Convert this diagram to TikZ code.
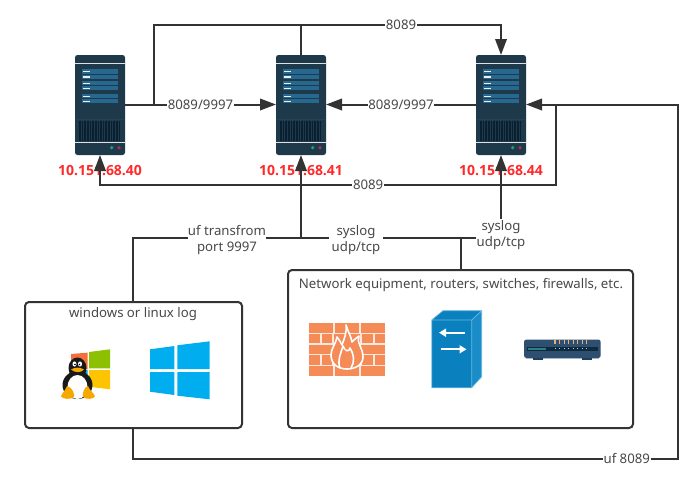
\documentclass[tikz,border=0pt]{standalone}
\usepackage{fontspec}
\setmainfont{Noto Sans}
\newfontfamily\ipfont{Open Sans}
\usetikzlibrary{arrows.meta,calc}
\definecolor{ln}{HTML}{333333}
\definecolor{txt}{HTML}{484848}
\definecolor{srv}{HTML}{1E3A4A}
\definecolor{pane}{HTML}{26688F}
\definecolor{vent}{HTML}{0A2030}
\definecolor{brick}{HTML}{F58B57}
\definecolor{wb}{HTML}{00ADEF}
\definecolor{msr}{HTML}{F2703C}
\definecolor{msg}{HTML}{8DC000}
\definecolor{msb}{HTML}{00A4EF}
\definecolor{msy}{HTML}{FFC400}
\definecolor{tuxo}{HTML}{F5A800}
\definecolor{swf}{HTML}{0A80BF}
\definecolor{sws}{HTML}{1A8CC8}
\definecolor{swe}{HTML}{6DB8E0}
\definecolor{rtf}{HTML}{1F3D5C}
\definecolor{rtb}{HTML}{2F4F70}
\definecolor{rtl}{HTML}{A9B8C8}
\definecolor{rtd}{HTML}{0C2A3C}
\definecolor{rtt}{HTML}{2F7F86}
\definecolor{rto}{HTML}{E8B070}
\definecolor{rtw}{HTML}{B8D0D8}
\definecolor{dotg}{HTML}{2A9A6F}
\definecolor{dotr}{HTML}{A8304F}
\definecolor{ipred}{HTML}{FF2A2A}
\tikzset{
  x=1pt,y=-1pt,
  conn/.style={draw=ln,line width=2pt},
  tip/.style={-{Triangle[length=16pt,width=11.5pt]}},
  lab/.style={fill=white,inner sep=0.6pt,text=txt,font=\fontsize{13.2}{16}\selectfont,align=center},
  ip/.style={text=ipred,font=\ipfont\fontsize{14}{15}\selectfont\bfseries,inner sep=0pt},
  serverbox/.style={minimum width=50pt,minimum height=100pt,inner sep=0pt,outer sep=0pt,draw=none,fill=srv,rounded corners=2.5pt},
  groupbox/.style={draw=ln,line width=2pt,rounded corners=4pt,fill=white,inner sep=0pt,outer sep=0pt},
  head/.style={text=txt,font=\fontsize{13.2}{15}\selectfont,inner sep=0pt},
}
\newcommand{\serverart}[2]{%
\begin{scope}[shift={(#1,#2)}]
  \fill[white!85!srv] (0,8) rectangle (50,8.7);
  \foreach \a/\b in {14.3/19,19.7/24.3,26/30,31/35,39/43,44/48}{
    \fill[pane] (7.3,\a) rectangle (43,\b);
    \fill[white!90!pane] (8,{\a+1.6}) rectangle (14.5,{\a+2.8});
  }
  \fill[srv!80!pane] (0,64) rectangle (50,64.8);
  \fill[vent] (4,66) rectangle (46,86);
  \foreach \i in {0,...,15}{\fill[srv] ({5.6+\i*2.65},66) rectangle ({6.2+\i*2.65},86);}
  \fill[white!85!srv] (0,87) rectangle (50,87.7);
  \fill[dotg] (36.7,92.7) circle (1.8);
  \fill[dotr] (44,92.7) circle (1.8);
\end{scope}}
\begin{document}
\begin{tikzpicture}
\useasboundingbox (0,0) rectangle (687,483);
\fill[white] (0,0) rectangle (687,483);

% servers
\node[serverbox] (s1) at (100,105) {};
\node[serverbox] (s2) at (301,105) {};
\node[serverbox] (s3) at (501,105) {};
\serverart{75}{55}\serverart{276}{55}\serverart{476}{55}
\node[ip] (ip1) at (100,171) {10.151.68.40};
\node[ip] (ip2) at (301,171) {10.151.68.41};
\node[ip] (ip3) at (501,171) {10.151.68.44};

% group boxes
\node[groupbox,minimum width=217pt,minimum height=126pt] (win) at (133.5,365) {};
\node[groupbox,minimum width=345pt,minimum height=158pt] (net) at (460.5,349) {};
\node[head] (wint) at (133,314.5) {windows or linux log};
\node[head] (nett) at (461,285) {Network equipment, routers, switches, firewalls, etc.};

% rail coordinates
\coordinate (j1) at (154,104.5);
\coordinate (top) at (301,25);
\coordinate (j3) at (556,104.5);
\coordinate (low) at (100,184.5);
\coordinate (mid) at (301,237.5);
\coordinate (far) at (678,459);
\coordinate (winup) at (133,237.5);
\coordinate (winbot) at (133,429);
\coordinate (netup) at (461,237.5);

% connectors
\draw[conn] (j1) -- (j1 |- top) -- (top);
\draw[conn,tip] (s2.north) -- (top) -- node[lab,midway] (l8089a) {8089} (s3.north |- top) -- (s3.north);
\draw[conn,tip] (s1.east |- j1) -- node[lab,midway] (l1) {8089/9997} (s2.west |- j1);
\draw[conn,tip] (s3.west |- j1) -- node[lab,midway] (l2) {8089/9997} (s2.east |- j1);
\draw[conn,tip] (j3) -- (j3 |- low) -- node[lab,pos=0.412] (l8089b) {8089} (low) -- (s1.south);
\draw[conn,tip] (winbot) -- (winbot |- far) -- node[lab,pos=0.906] (l8089c) {uf 8089} (far) -- (far |- j3) -- (s3.east |- j3);
\draw[conn] (win.north -| winup) -- (winup) -- (mid);
\node[lab,inner xsep=0pt] (luf) at (227,240) {uf transfrom\\port 9997};
\draw[conn,tip] (mid) -- (s2.south);
\draw[conn] (net.north -| netup) -- (netup);
\draw[conn] (mid) -- (netup);
\node[lab,inner xsep=3pt] (ls1) at (356,240) {syslog\\udp/tcp};
\draw[conn,tip] (netup) -- (netup -| s3.south) -- (s3.south);
\node[lab,inner xsep=1pt,inner ysep=1pt] (ls2) at (501,235) {syslog\\udp/tcp};

% windows logo
\fill[wb] (150,349.3) -- (174.3,346) -- (174.3,369) -- (150,369) -- cycle;
\fill[wb] (177.3,345.3) -- (209.7,341.3) -- (209.7,369) -- (177.3,369) -- cycle;
\fill[wb] (150,372) -- (174.3,372) -- (174.3,395) -- (150,391.7) -- cycle;
\fill[wb] (177.3,372) -- (209.7,372) -- (209.7,399.3) -- (177.3,395.7) -- cycle;

% ms + penguin
\fill[msr] (71,354) -- (87.7,352.6) -- (87.7,369) -- (71,369) -- cycle;
\fill[msg] (89,352) -- (110,349.3) -- (110,368.3) -- (89,368.3) -- cycle;
\fill[msb] (71,370) -- (87.7,370) -- (87.7,386) -- (71,384) -- cycle;
\fill[msy] (89,370) -- (110,370) -- (110,389.3) -- (89,386.7) -- cycle;
\fill[black!90] (77.5,368) ellipse (9 and 10.5);
\fill[black!90] (77.5,385) ellipse (15 and 14);
\fill[white] (77.5,387) ellipse (10 and 12);
\fill[white] (74.5,364) ellipse (2 and 2.6);
\fill[white] (80,364) ellipse (2 and 2.6);
\fill[black] (75,364.5) circle (0.9);
\fill[black] (79.5,364.5) circle (0.9);
\fill[tuxo] (71,369.5) .. controls (75,367) and (80,367) .. (84,369.5) .. controls (81,373) and (75,373) .. (71,369.5) -- cycle;
\fill[tuxo] (67,386) .. controls (72,387) and (75,394) .. (74,397) .. controls (70,400) and (63,399) .. (61,396.5) .. controls (62,393) and (65,391) .. (67,386) -- cycle;
\fill[tuxo] (88,386) .. controls (84,387) and (82,394) .. (83,397) .. controls (87,400) and (93,399) .. (95,396.5) .. controls (94,393) and (90,391) .. (88,386) -- cycle;

% firewall
\fill[brick] (309,323) rectangle (385,376);
\foreach \yy in {333.3,344,354.7,365.3}{\fill[white!80!brick] (309,{\yy-0.7}) rectangle (385,{\yy+0.7});}
\foreach \xx in {334,360}{
  \fill[white!80!brick] (\xx-0.8,323) rectangle (\xx+0.8,333.3);
  \fill[white!80!brick] (\xx-0.8,344) rectangle (\xx+0.8,354.7);
  \fill[white!80!brick] (\xx-0.8,365.3) rectangle (\xx+0.8,376);
}
\foreach \xx in {321,333,347,361,374}{
  \fill[white!80!brick] (\xx-0.8,333.3) rectangle (\xx+0.8,344);
  \fill[white!80!brick] (\xx-0.8,354.7) rectangle (\xx+0.8,365.3);
}
\draw[white,line width=1.6pt,fill=brick,line join=round] (346,325) .. controls (348,332) and (351,336) .. (352,342) .. controls (354,340) and (356,338) .. (359,336) .. controls (356,342) and (363,348) .. (363,357) .. controls (363,365) and (355,369) .. (347,369) .. controls (338,369) and (331,364) .. (331,355) .. controls (331,348) and (336,344) .. (337,337) .. controls (339,340) and (341,342) .. (342,345) .. controls (344,339) and (347,333) .. (346,325) -- cycle;
\draw[white,line width=1.6pt,line join=round,line cap=round] (340,368) .. controls (337,360) and (341,353) .. (343,346) .. controls (345,352) and (349,352) .. (350,348) .. controls (354,354) and (355,362) .. (351,368);
\fill[brick] (345,349) .. controls (346,356) and (349,358) .. (347,366) .. controls (344,362) and (343,356) .. (345,349) -- cycle;

% switch
\fill[swf] (431.7,320) rectangle (471.7,387.7);
\fill[swf] (431.7,320) -- (443,310.7) -- (481.7,310.7) -- (471.7,320) -- cycle;
\fill[sws] (471.7,320) -- (481.7,310.7) -- (481.7,376.7) -- (471.7,387.7) -- cycle;
\draw[swe,line width=0.7pt,line join=round] (431.7,320) -- (443,310.7) -- (481.7,310.7) -- (481.7,376.7) -- (471.7,387.7) -- (431.7,387.7) -- cycle (431.7,320) -- (471.7,320) -- (481.7,310.7) (471.7,320) -- (471.7,387.7);
\draw[white,line width=1.8pt,-{Triangle[length=7pt,width=8pt]}] (465,332.7) -- (439,332.7);
\draw[white,line width=1.8pt,-{Triangle[length=7pt,width=8pt]}] (440.7,349.3) -- (466.5,349.3);

% router
\fill[rtb,rounded corners=2.5pt] (524,339.5) rectangle (600.7,358);
\fill[rtf] (533,358) rectangle (543,359.5);
\fill[rtf] (582,358) rectangle (592,359.5);
\fill[rtl] (526,358) rectangle (533,358.8);
\fill[rtl] (543,358) rectangle (582,358.8);
\fill[rtl] (592,358) rectangle (599,358.8);
\fill[rtd] (527,346.7) rectangle (598,350.7);
\fill[rtt] (528,347.7) rectangle (546,349.7);
\foreach \i in {0,...,7}{
  \fill[rto] ({555+\i*4.55-0.6},340.3) rectangle ({555+\i*4.55+0.6},343.5);
  \fill[rtw] ({555+\i*4.55-0.5},348.2) rectangle ({555+\i*4.55+0.5},349.4);
}
\end{tikzpicture}
\end{document}
